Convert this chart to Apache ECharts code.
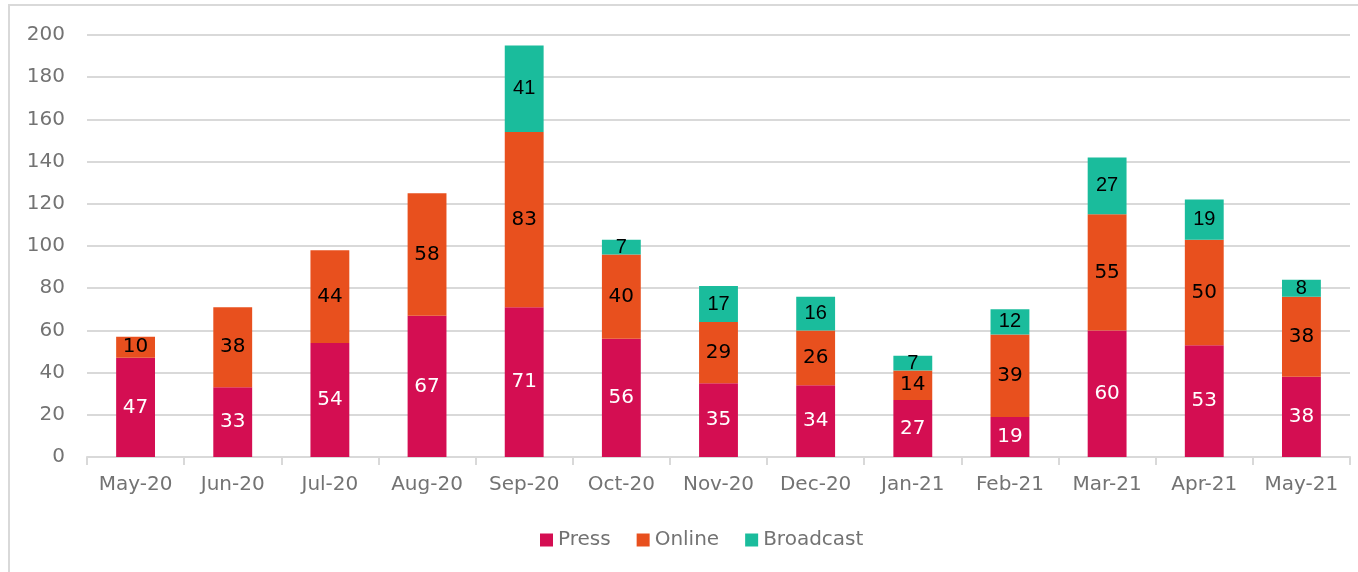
<!DOCTYPE html>
<html>
<head>
<meta charset="utf-8">
<script src="https://cdn.jsdelivr.net/npm/echarts@6/dist/echarts.min.js"></script>
<style>
  html, body { margin: 0; padding: 0; background: #fff; }
  #chart { width: 1358px; height: 572px; }
</style>
</head>
<body>
<div id="chart"></div>
<script>
var months = ['May-20', 'Jun-20', 'Jul-20', 'Aug-20', 'Sep-20', 'Oct-20', 'Nov-20',
              'Dec-20', 'Jan-21', 'Feb-21', 'Mar-21', 'Apr-21', 'May-21'];
var press = [47, 33, 54, 67, 71, 56, 35, 34, 27, 19, 60, 53, 38];
var online = [10, 38, 44, 58, 83, 40, 29, 26, 14, 39, 55, 50, 38];
var broadcast = [0, 0, 0, 0, 41, 7, 17, 16, 7, 12, 27, 19, 8];

var font = 'DejaVu Sans';

function label(color, family) {
    return {
        show: true,
        position: 'inside',
        color: color,
        fontSize: 20,
        fontFamily: family,
        formatter: function (p) { return p.value ? String(p.value) : ''; }
    };
}

var chart = echarts.init(document.getElementById('chart'));

var option = {
    animation: false,
    graphic: [{
        type: 'rect',
        shape: { x: 9, y: 5, width: 1400, height: 620 },
        style: { fill: 'none', stroke: '#d9d9d9', lineWidth: 2 },
        silent: true
    }],
    grid: { left: 87, right: 8, top: 35, bottom: 115 },
    legend: {
        bottom: 17,
        left: 535,
        itemWidth: 13,
        itemHeight: 13,
        itemGap: 26,
        icon: 'rect',
        textStyle: { color: '#737373', fontSize: 20, fontFamily: font },
        data: ['Press', 'Online', 'Broadcast']
    },
    xAxis: {
        type: 'category',
        data: months,
        axisLine: { lineStyle: { color: '#d9d9d9', width: 2 } },
        axisTick: { show: true, length: 8, lineStyle: { color: '#d9d9d9', width: 2 } },
        axisLabel: { color: '#737373', fontSize: 20, fontFamily: font, margin: 18 }
    },
    yAxis: {
        type: 'value',
        min: 0,
        max: 200,
        interval: 20,
        axisLine: { show: false },
        axisTick: { show: false },
        splitLine: { lineStyle: { color: '#d9d9d9', width: 2 } },
        axisLabel: { color: '#737373', fontSize: 20, fontFamily: font, margin: 22 }
    },
    series: [
        {
            name: 'Press', type: 'bar', stack: 'total', data: press,
            barCategoryGap: '60%',
            itemStyle: { color: '#D40E52' },
            label: label('#ffffff', font)
        },
        {
            name: 'Online', type: 'bar', stack: 'total', data: online,
            itemStyle: { color: '#E8501E' },
            label: label('#000000', font)
        },
        {
            name: 'Broadcast', type: 'bar', stack: 'total', data: broadcast,
            itemStyle: { color: '#1ABC9C' },
            label: label('#000000', 'Liberation Sans')
        }
    ]
};

chart.setOption(option);
</script>
</body>
</html>
